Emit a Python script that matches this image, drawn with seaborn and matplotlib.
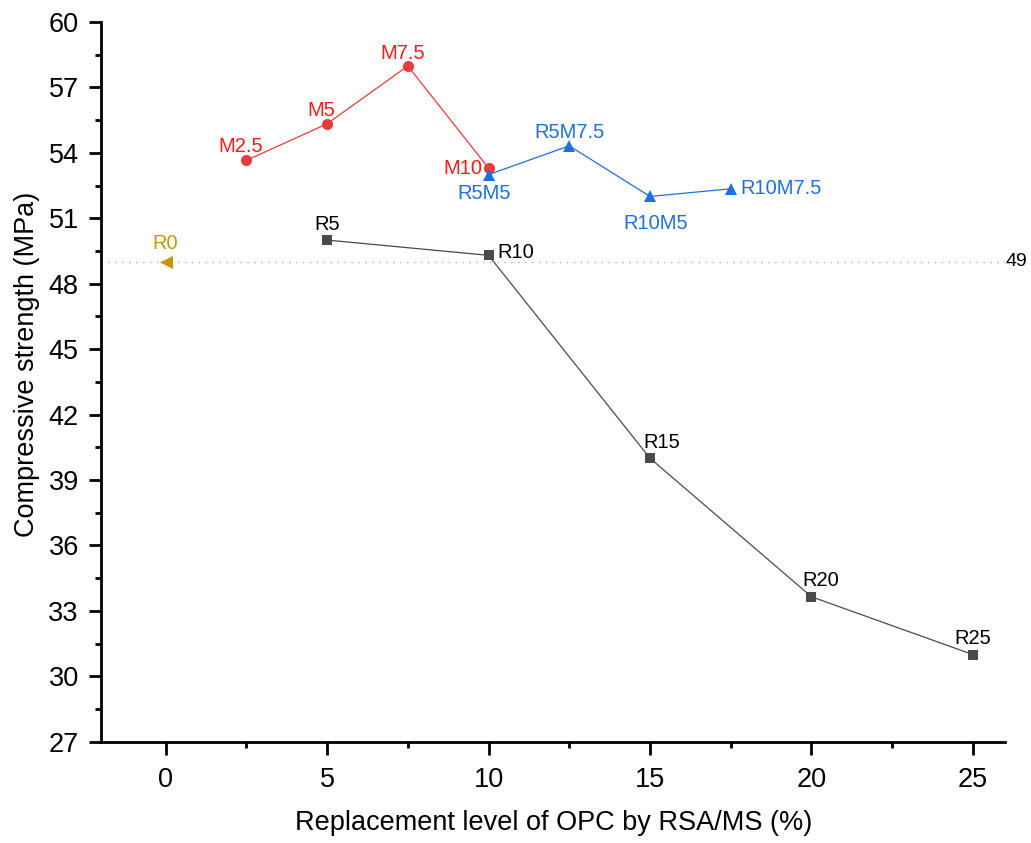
import matplotlib
matplotlib.use("Agg")
import matplotlib.pyplot as plt
from matplotlib.ticker import MultipleLocator
import numpy as np
import pandas as pd
import seaborn as sns

# Replacement level (%) and compressive strength (MPa) for each mix group
r_level = [5, 10, 15, 20, 25]
r_strength = [50.0, 49.3, 40.0, 33.65, 31.0]
r_labels = ["R5", "R10", "R15", "R20", "R25"]

m_level = [2.5, 5, 7.5, 10]
m_strength = [53.65, 55.33, 57.98, 53.3]
m_labels = ["M2.5", "M5", "M7.5", "M10"]

rm_level = [10, 12.5, 15, 17.5]
rm_strength = [53.0, 54.32, 52.0, 52.35]
rm_labels = ["R5M5", "R5M7.5", "R10M5", "R10M7.5"]

ref_level = [0]
ref_strength = [49.0]
ref_labels = ["R0"]
ref_value = 49

sns.set_theme(style="ticks")
plt.rcParams["font.family"] = ["Liberation Sans", "DejaVu Sans"]
plt.rcParams["text.color"] = "black"
plt.rcParams["axes.labelcolor"] = "black"

fig = plt.figure(figsize=(10.31, 8.43), dpi=100)
ax = fig.add_axes([0.098, 0.12, 0.877, 0.854])

grey = "#4a4a4a"
red = "#e83c3c"
blue = "#1f6fe0"
gold = "#c8960a"

# Reference level line
ax.axhline(ref_value, color="#b0b0b0", lw=1.0, ls=(0, (1, 4)), zorder=1)
ax.text(1.0, ref_value, str(ref_value), transform=ax.get_yaxis_transform(),
        ha="left", va="center", fontsize=14, color="black")

df_r = pd.DataFrame({"x": r_level, "y": r_strength})
df_m = pd.DataFrame({"x": m_level, "y": m_strength})
df_rm = pd.DataFrame({"x": rm_level, "y": rm_strength})
df_ref = pd.DataFrame({"x": ref_level, "y": ref_strength})

sns.lineplot(data=df_r, x="x", y="y", ax=ax, color=grey, lw=0.9,
             marker="s", markersize=7, markeredgewidth=0, markerfacecolor=grey, zorder=3)
sns.lineplot(data=df_m, x="x", y="y", ax=ax, color=red, lw=0.9,
             marker="o", markersize=8, markeredgewidth=0, markerfacecolor=red, zorder=3)
sns.lineplot(data=df_rm, x="x", y="y", ax=ax, color=blue, lw=0.9,
             marker="^", markersize=8.5, markeredgewidth=0, markerfacecolor=blue, zorder=4)
sns.scatterplot(data=df_ref, x="x", y="y", ax=ax, color=gold, marker="<", s=90,
                linewidth=0, zorder=3)

fs = 14.5

def label_points(xs, ys, names, offsets, color):
    for x, y, name, (dx, dy, ha, va) in zip(xs, ys, names, offsets):
        ax.annotate(name, (x, y), xytext=(dx, dy), textcoords="offset points",
                    ha=ha, va=va, fontsize=fs, color=color)

label_points(r_level, r_strength, r_labels,
             [(0, 4.5, "center", "bottom"), (6, 2, "left", "center"),
              (8.5, 4.5, "center", "bottom"), (7, 5, "center", "bottom"),
              (0, 5, "center", "bottom")], "black")
label_points(m_level, m_strength, m_labels,
             [(-4, 3, "center", "bottom"), (-4, 3, "center", "bottom"),
              (-3.5, 2.5, "center", "bottom"), (-4.5, -0.5, "right", "center")], "#ff1a1a")
label_points(rm_level, rm_strength, rm_labels,
             [(-3.5, -7, "center", "top"), (0, 2.5, "center", "bottom"),
              (4, -12.5, "center", "top"), (7, 0, "left", "center")], blue)
label_points(ref_level, ref_strength, ref_labels,
             [(0, 6.5, "center", "bottom")], gold)

ax.set_xlim(-2, 26)
ax.set_ylim(27, 60)
ax.xaxis.set_major_locator(MultipleLocator(5))
ax.xaxis.set_minor_locator(MultipleLocator(2.5))
ax.yaxis.set_major_locator(MultipleLocator(3))
ax.yaxis.set_minor_locator(MultipleLocator(1.5))

for side in ["top", "right"]:
    ax.spines[side].set_visible(False)
for side in ["left", "bottom"]:
    ax.spines[side].set_linewidth(2.0)
    ax.spines[side].set_color("black")

ax.tick_params(which="major", direction="out", length=9, width=2.0, labelsize=19.5,
               color="black", labelcolor="black")
ax.tick_params(which="minor", direction="out", length=4.5, width=2.0, color="black")
ax.tick_params(axis="x", which="major", pad=9)
ax.tick_params(axis="y", which="major", pad=7)

ax.set_xlabel("Replacement level of OPC by RSA/MS (%)", fontsize=19.5, labelpad=12,
              color="black")
ax.set_ylabel("Compressive strength (MPa)", fontsize=19.5, color="black")
ax.yaxis.set_label_coords(-0.068, 0.524)

fig.savefig("out.png", dpi=100)
